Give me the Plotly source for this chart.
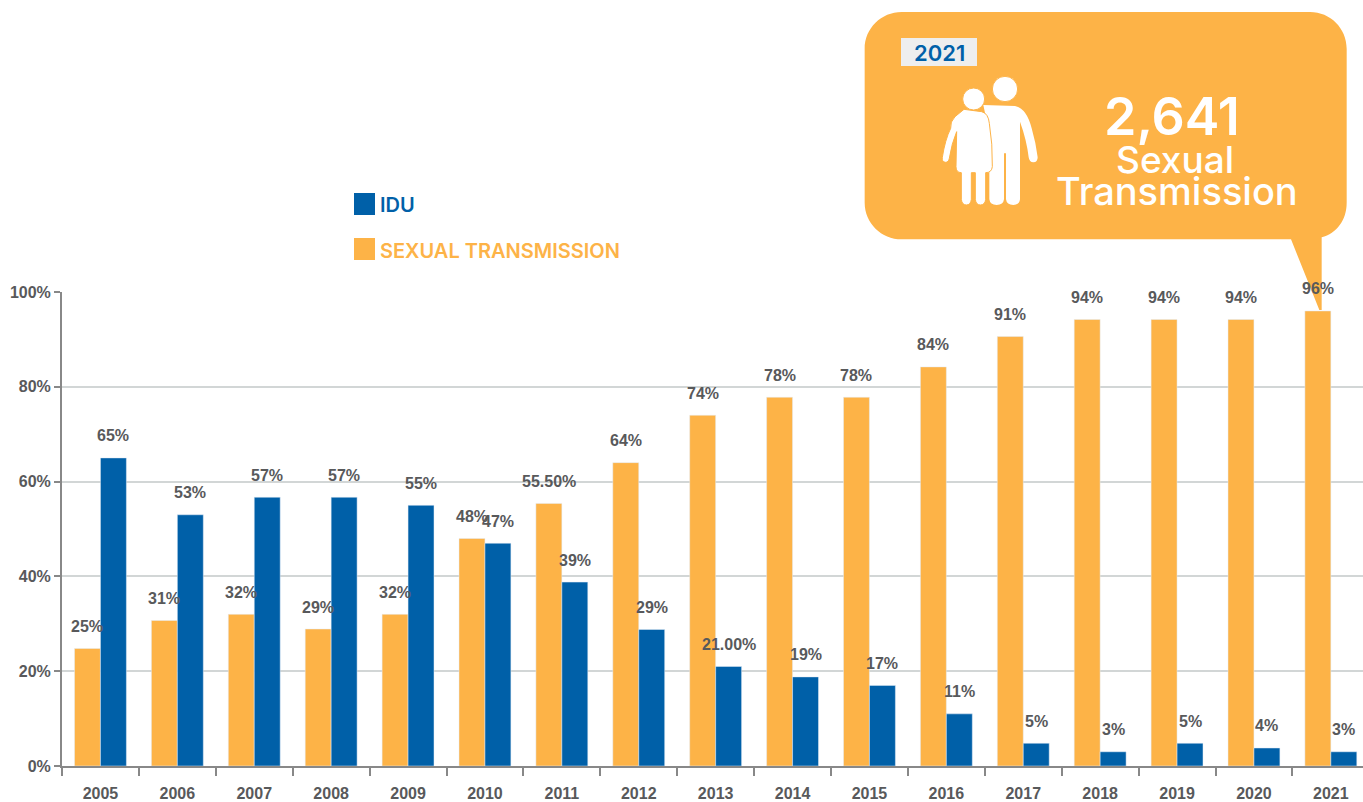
import re
import plotly.graph_objects as go

years = [str(y) for y in range(2005, 2022)]
sexual = [24.8, 30.7, 32, 28.9, 32, 48, 55.4, 64, 74, 77.8, 77.8, 84.2, 90.6, 94.2, 94.2, 94.2, 96]
idu = [65, 53, 56.7, 56.7, 55, 47, 38.8, 28.8, 21, 18.8, 17, 11, 4.8, 3, 4.8, 3.8, 3]
sexual_labels = ["25%", "31%", "32%", "29%", "32%", "48%", "55.50%", "64%", "74%", "78%", "78%", "84%", "91%", "94%", "94%", "94%", "96%"]
idu_labels = ["65%", "53%", "57%", "57%", "55%", "47%", "39%", "29%", "21.00%", "19%", "17%", "11%", "5%", "3%", "5%", "4%", "3%"]
y_ticks = [0, 20, 40, 60, 80, 100]
y_tick_labels = ["0%", "20%", "40%", "60%", "80%", "100%"]

ORANGE = "#FDB347"
BLUE = "#0060A8"
GRAY = "#58595B"
NARROW = "Liberation Sans, Arial, sans-serif"
HEAD = "Inter, Open Sans, sans-serif"
TICK_SIZE = 16

W, H = 1363, 802
L, R, T, B = 62, 0, 292, 36
PW, PH = W - L - R, H - T - B
CAT = 76.9
GAP = 0.325
OFF = (1 - GAP) / 4


def px(x):
    return (x - L) / PW


def py(y):
    return (H - B - y) / PH


fig = go.Figure()
fig.add_bar(x=years, y=sexual, name="SEXUAL TRANSMISSION", marker_color=ORANGE, showlegend=False, hoverinfo="skip")
fig.add_bar(x=years, y=idu, name="IDU", marker_color=BLUE, showlegend=False, hoverinfo="skip")

annotations = []
for i, (a, b) in enumerate(zip(sexual, idu)):
    for val, lab, dx in ((a, sexual_labels[i], -OFF), (b, idu_labels[i], OFF)):
        annotations.append(dict(x=i + dx, y=val, xref="x", yref="y", text=lab, showarrow=False,
                                yanchor="middle", xanchor="center", yshift=22,
                                font=dict(family=NARROW, size=TICK_SIZE, color=GRAY, weight="bold")))


def label(x, y, text, size, color, weight=600, anchor="center"):
    annotations.append(dict(x=px(x), y=py(y), xref="paper", yref="paper", text=text, showarrow=False,
                            xanchor=anchor, yanchor="middle", font=dict(family=HEAD, size=size, color=color, weight=weight)))


def rect(x0, y0, x1, y1, color):
    return dict(type="rect", xref="paper", yref="paper", x0=px(x0), x1=px(x1), y0=py(y0), y1=py(y1),
                fillcolor=color, line_width=0, layer="above")


def zpath(d, fill=ORANGE, line=None, lw=0):
    """Callout artwork traced in zoom-crop pixels, mapped on to the page."""
    toks = re.findall(r"[A-Za-z]|-?[\d.]+", d)
    out, is_x = [], True
    for t in toks:
        if t.isalpha():
            out.append(t)
            is_x = True
        else:
            v = float(t)
            if is_x:
                out.append(f"{px(860 + v / 3):.5f}")
            else:
                out.append(f"{py(v / 3):.5f}")
            is_x = not is_x
    return dict(type="path", xref="paper", yref="paper", path=" ".join(out), fillcolor=fill,
                line=dict(color=line or "rgba(0,0,0,0)", width=lw), layer="above")


def circle(cx, cy, r):
    return dict(type="circle", xref="paper", yref="paper", x0=px(860 + (cx - r) / 3), x1=px(860 + (cx + r) / 3),
                y0=py((cy - r) / 3), y1=py((cy + r) / 3), fillcolor="white", line=dict(color=ORANGE, width=1), layer="above")


shapes = [
    rect(354, 193, 375, 215, BLUE),
    rect(354, 238, 375, 260, ORANGE),
    # speech bubble and its pointer
    zpath("M 125 36 L 1350 36 C 1411 36 1460 85 1460 146 L 1460 608 C 1460 660 1430 700 1385 712 L 1385 930 L 1378 930 L 1293 718 "
          "L 125 718 C 64 718 14 669 14 608 L 14 146 C 14 85 64 36 125 36 Z"),
    rect(901, 38, 977, 66, "#EEEEEE"),
    # man
    zpath("M 370 315 L 465 318 Q 500 325 515 385 Q 528 430 533 472 Q 533 487 520 487 Q 508 487 506 472 "
          "Q 500 420 480 365 L 480 598 Q 478 615 460 615 Q 440 615 438 598 L 438 460 L 432 460 L 432 598 "
          "Q 430 615 410 615 Q 390 615 388 598 L 388 400 Z", fill="white"),
    circle(435, 267, 38),
    # woman
    zpath("M 312 328 L 365 335 Q 385 340 388 370 Q 398 430 397 500 Q 395 518 377 518 L 377 598 Q 375 615 361 615 "
          "Q 348 615 346 598 L 346 518 L 334 518 L 334 598 Q 332 615 319 615 Q 306 615 304 598 L 304 518 "
          "Q 288 518 288 500 L 290 395 Q 275 430 268 475 Q 266 487 256 487 Q 245 485 247 472 Q 255 420 272 385 "
          "Q 270 365 285 350 Z", fill="white", line=ORANGE, lw=1),
    circle(341, 297, 33),
]

label(378, 205, "IDU", 20, BLUE, 600, "left")
label(378, 251, "SEXUAL TRANSMISSION", 20, ORANGE, 600, "left")
label(939, 53, "2021", 22, BLUE, 600)
label(1172, 116, "2,641", 52, "white", 600)
label(1175, 159, "Sexual", 37, "white", 500)
label(1177, 191, "Transmission", 38, "white", 500)

fig.update_layout(
    width=W, height=H, autosize=False,
    margin=dict(l=L, r=R, t=T, b=B, pad=0),
    paper_bgcolor="white", plot_bgcolor="white",
    barmode="group", bargap=GAP, bargroupgap=0,
    shapes=shapes, annotations=annotations,
    xaxis=dict(type="category", categoryorder="array", categoryarray=years, tickson="boundaries",
               range=[-0.5, -0.5 + PW / CAT], ticks="outside", ticklen=8, tickwidth=2, tickcolor="#888888",
               showline=True, linecolor="#888888", linewidth=2, showgrid=False, ticklabelstandoff=12,
               tickfont=dict(family=NARROW, size=TICK_SIZE, color=GRAY, weight="bold")),
    yaxis=dict(range=[0, 100], tickvals=y_ticks, ticktext=y_tick_labels, ticks="outside", ticklen=6, tickwidth=1.5,
               tickcolor="#888888", showline=True, linecolor="#888888", linewidth=2,
               gridcolor="#D2D6D6", gridwidth=1.5, zeroline=False,
               tickfont=dict(family=NARROW, size=TICK_SIZE, color=GRAY, weight="bold")),
)
fig.write_html("out.html", config=dict(displayModeBar=False),
               post_script="document.body.style.margin='0';document.documentElement.style.overflow='hidden';")
